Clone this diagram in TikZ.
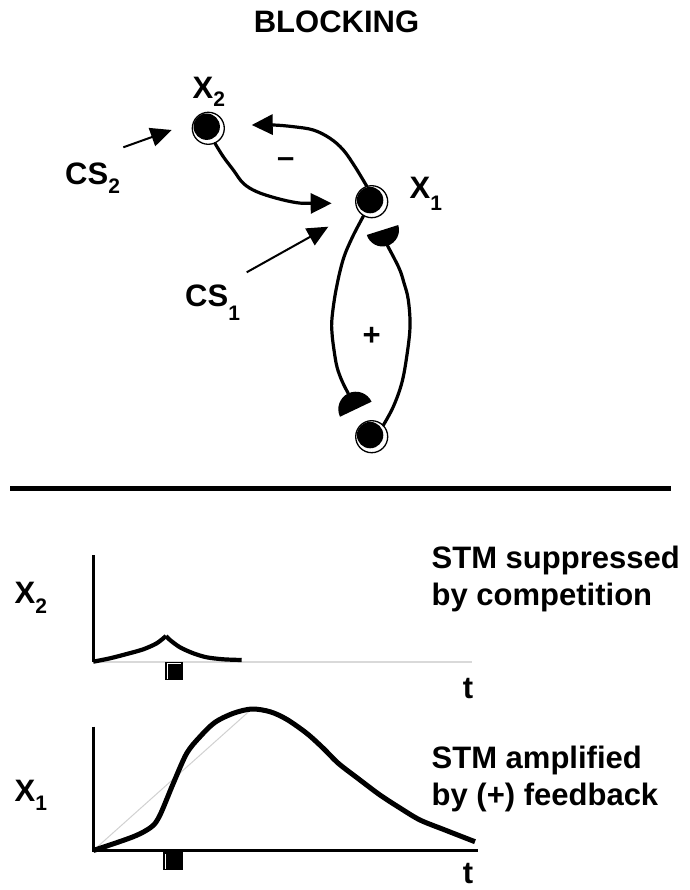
\documentclass[tikz,border=0pt]{standalone}
\usepackage{fontspec}
\setmainfont{Liberation Sans}
\usetikzlibrary{arrows.meta}
\newcommand{\lowsub}[2]{\raisebox{-#2pt}{\fontsize{21}{21}\selectfont\bfseries #1}}
\begin{document}
\begin{tikzpicture}[x=1pt,y=-1pt,
  lab/.style={font=\fontsize{31}{31}\selectfont\bfseries, inner sep=0pt, anchor=base west},
  cell/.style={circle, draw, line width=1.3pt, inner sep=0pt, minimum size=32pt,
    path picture={\fill ([shift={(-1.6pt,1.6pt)}]path picture bounding box.center) circle (13.2pt);}},
  conn/.style={line width=3.2pt, line cap=round, line join=round},
  tip/.style={-{Triangle[length=21pt,width=20pt]}},
  thinarr/.style={line width=2pt, -{Triangle[length=21pt,width=19pt]}},
  axis/.style={line width=2.4pt},
  trace/.style={line width=4.2pt, line join=round},
  guide/.style={line width=1pt, color=black!18},
]
\useasboundingbox (0,0) rectangle (689,890);

% title
\node[lab, anchor=base] (title) at (336.5,32.7) {BLOCKING};

% cells
\node[cell] (x2) at (208.3,128.3) {};
\node[cell] (x1) at (371.7,201.7) {};
\node[cell] (x0) at (371.7,436.7) {};

% labels
\node[lab] (lx2) at (192.5,98.3) {X\lowsub{2}{8.4}};
\node[lab] (lcs2) at (65,185) {CS\lowsub{2}{8.3}};
\node[lab] (lx1) at (409.5,198.3) {X\lowsub{1}{12}};
\node[lab] (lcs1) at (185,306.7) {CS\lowsub{1}{13.3}};
\node[lab, anchor=base] (minus) at (285.8,167.9) {–};
\node[lab, anchor=base] (plus) at (371.7,345) {+};

% arrow end points
\coordinate (cs2s) at (123.3,147.3);
\coordinate (cs2t) at (171.7,130);
\coordinate (cs1s) at (246.7,272.3);
\coordinate (cs1t) at (328.3,226.7);
\coordinate (t21) at (331.7,203.3);
\coordinate (t12) at (251.7,125);

% CS inputs
\draw[thinarr] (cs2s) -- (cs2t);
\draw[thinarr] (cs1s) -- (cs1t);

% X2 -> X1
\draw[conn,tip] plot[smooth, tension=0.6] coordinates {(x2.-66) (223.3,156.7) (233.3,170) (243.3,183.3) (256.7,191.7) (276.7,198.3) (296.7,202.7) (310,203.3) (t21)};
% X1 -> X2
\draw[conn,tip] plot[smooth, tension=0.6] coordinates {(x1.108) (355,166.7) (343.3,150) (330,138.3) (313.3,130) (293.3,126.7) (273.3,125) (t12)};

% half-disc terminals
\coordinate (hdTop) at (382.5,230);
\coordinate (hdBot) at (355.8,409.2);
\coordinate (hdTopA) at (387.5,245.7);
\coordinate (hdBotA) at (348.3,393.5);
\begin{scope}[shift={(hdTop)}, rotate=-162.5]
  \fill (-16.5pt,0pt) arc[start angle=180, end angle=0, radius=16.5pt] -- cycle;
\end{scope}
\begin{scope}[shift={(hdBot)}, rotate=25.5]
  \fill (-17.5pt,0pt) arc[start angle=180, end angle=0, radius=17.5pt] -- cycle;
\end{scope}

% positive feedback loop
\draw[conn] plot[smooth, tension=0.6] coordinates {(x1.-120) (352,238) (343,260) (336,290) (332,318) (332,333) (334,350) (337,367) (342,381) (hdBotA)};
\draw[conn] plot[smooth, tension=0.6] coordinates {(x0.45) (393.3,406.7) (401.7,383.3) (406.7,356.7) (410,326.7) (408.3,300) (404,283) (399,268) (hdTopA)};

% separator
\draw[line width=4.6pt] (10,488.5) -- (671,488.5);

% graph 1 (X2)
\draw[line width=1.6pt, black!15] (93.3,662) -- (471.7,662);
\draw[axis] (93.3,555) -- (93.3,662);
\draw[trace] plot[smooth, tension=0.5] coordinates {(93.3,661.7) (110,658.3) (126.7,654) (143.3,649.3) (156.7,643.3) (166,636)};
\draw[trace] plot[smooth, tension=0.5] coordinates {(166,636) (170,640) (180,647.3) (193.3,653.3) (206.7,657.3) (223.3,659.3) (241.7,660)};
\fill (165.3,661.7) rectangle (182.7,680);
\draw[white, line width=0.8pt] (167.3,679) -- (167.3,663.7) -- (181,663.7);
\node[lab] (gx2) at (14.5,603.3) {X\lowsub{2}{10}};
\node[lab, anchor=base] (t1) at (468,698.3) {t};
\node[lab] (s1a) at (431.5,568) {STM suppressed};
\node[lab] (s1b) at (431.5,605) {by competition};

% graph 2 (X1)
\draw[guide] (93.3,850.5) -- (251.7,709);
\draw[axis] (93.3,726.7) -- (93.3,850.5) -- (477.7,850.5);
\draw[trace, line width=5pt] plot[smooth, tension=0.5] coordinates {(93.3,850.5) (133.3,836.7) (151.7,826.7) (160,815) (173.3,783.3) (186.7,753.3) (200,736.7) (215,722.3) (233.3,713.3) (251.7,709) (270,711.7) (286.7,719.3) (306.7,733.3) (323.3,748.3) (338.3,763.3) (360,780) (380,795) (400,808) (420,820) (445,830) (475,841.7)};
\fill (163.3,851.7) rectangle (182.7,870);
\draw[white, line width=0.8pt] (165.5,868.5) -- (165.5,854);
\node[lab] (gx1) at (14.5,801.7) {X\lowsub{1}{8.3}};
\node[lab, anchor=base] (t2) at (468,883.5) {t};
\node[lab] (s2a) at (431.5,768) {STM amplified};
\node[lab] (s2b) at (431.5,805) {by (+) feedback};
\end{tikzpicture}
\end{document}
